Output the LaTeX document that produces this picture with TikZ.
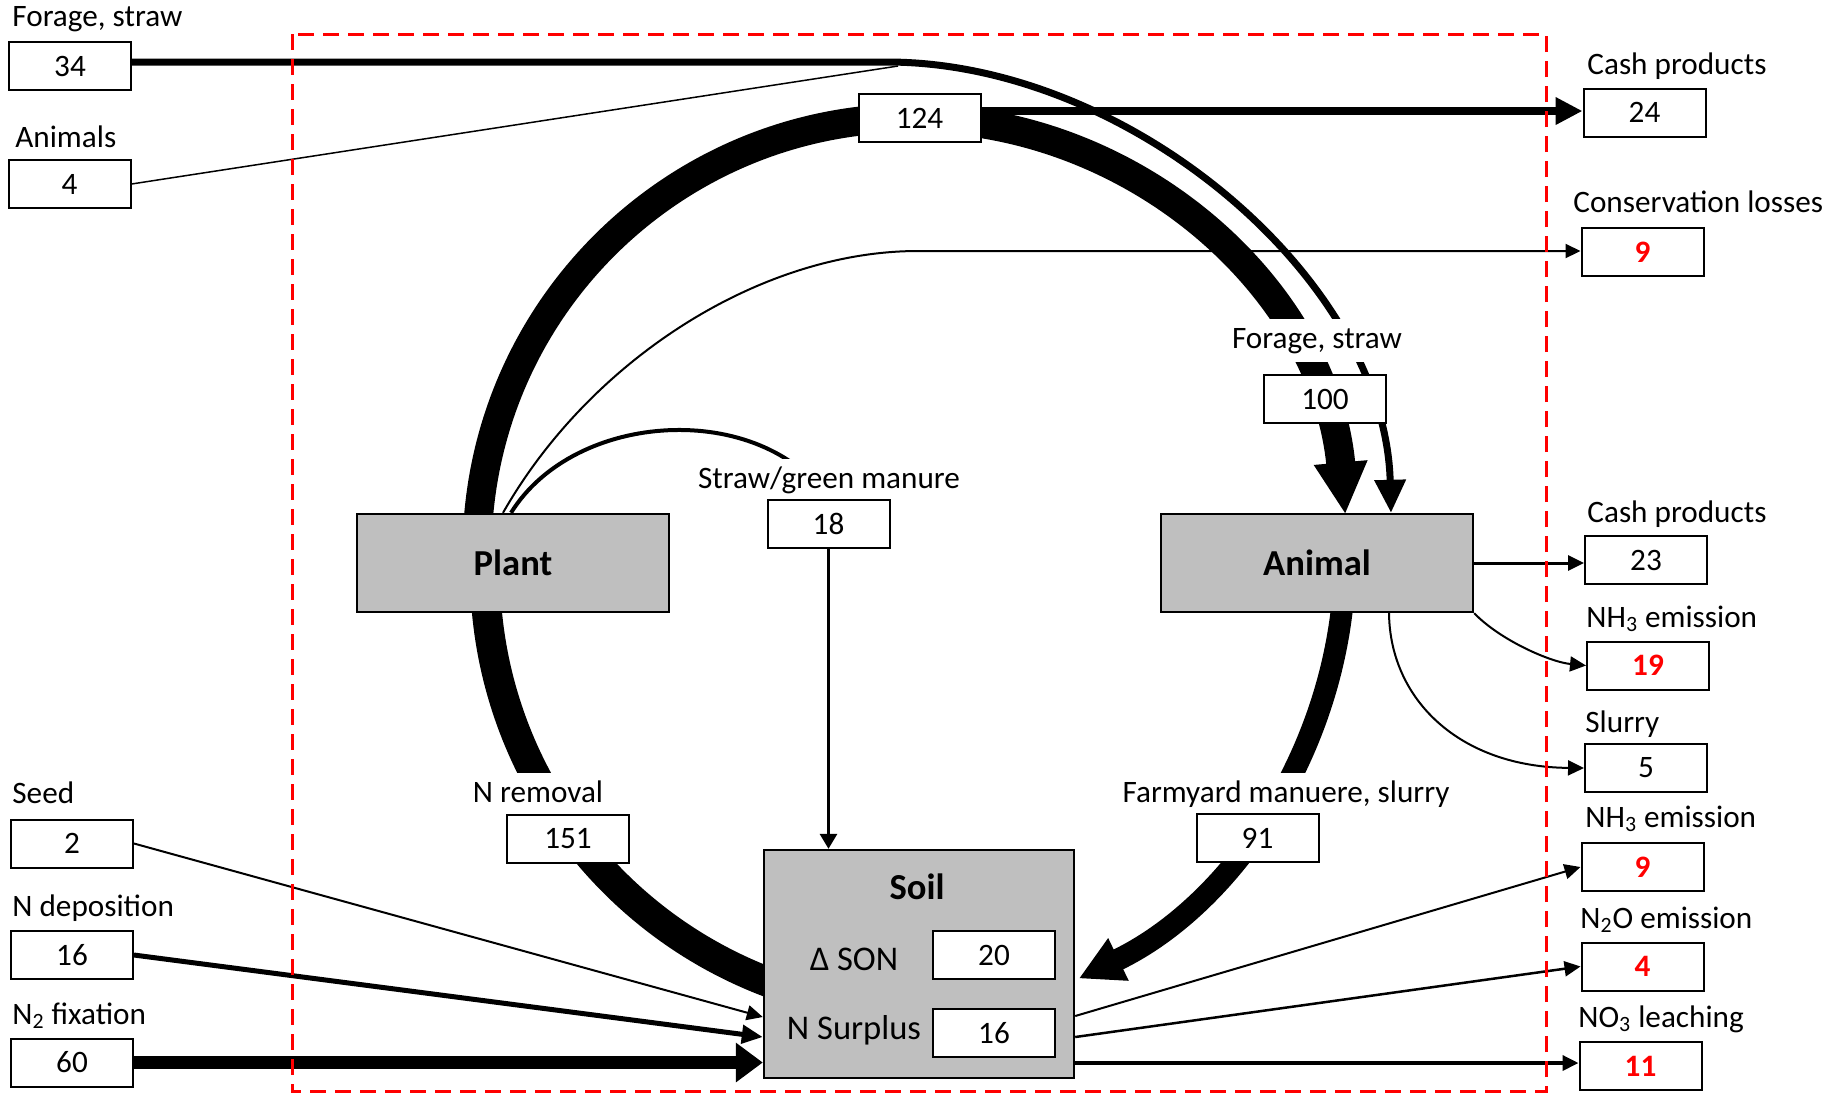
\documentclass[tikz,border=0pt]{standalone}
\usepackage{fontspec}
\setmainfont{Carlito}
\usetikzlibrary{arrows.meta,backgrounds}
\newcommand\fsreg{\fontsize{15.6pt}{18pt}\selectfont}
\newcommand\fsbold{\fontsize{18.3pt}{21pt}\selectfont\bfseries}
\newcommand\fssoil{\fontsize{17.3pt}{20pt}\selectfont}
\tikzset{
  numbox/.style={draw=black, line width=1pt, fill=white, minimum width=61pt, minimum height=24pt, inner sep=0pt, font=\fsreg},
  redbox/.style={numbox, text=red, font=\fsreg\bfseries},
  graybox/.style={draw=black, line width=1.2pt, fill=black!25, inner sep=0pt},
  lbl/.style={inner sep=0pt, anchor=base west, font=\fsreg},
  clbl/.style={inner sep=0pt, anchor=base, font=\fsreg, fill=white, text height=14.5pt, text depth=7pt},
  slbl/.style={inner sep=0pt, anchor=base, font=\fssoil},
  smalltip/.style={-{Triangle[width=7.5pt,length=8pt]}},
  flow/.style={line width=1pt},
}
\begin{document}
\begin{tikzpicture}[x=0.5pt,y=-0.5pt]
\useasboundingbox (0,0) rectangle (1845,1094);

% ---------- labels on the flows (drawn first, boxes go over them) ----------
\node[clbl] (tForageIn) at (1317,348) {Forage, straw};
\node[clbl] (tStraw) at (829,488) {Straw/green manure};
\node[clbl] (tRemoval) at (538,802) {N removal};
\node[clbl] (tManure) at (1286,802) {Farmyard manuere, slurry};

% ---------- boxes ----------
\node[numbox] (b34) at (70,66) {34};
\node[numbox] (b4a) at (69.5,184) {4};
\node[numbox] (b2) at (72,843.5) {2};
\node[numbox] (b16d) at (72,955) {16};
\node[numbox] (b60) at (72,1062.5) {60};
\node[numbox] (b124) at (919.5,118) {124};
\node[numbox] (b24) at (1644.5,112.5) {24};
\node[redbox] (b9c) at (1642.5,252) {9};
\node[numbox] (b100) at (1325,399) {100};
\node[graybox, minimum width=156pt, minimum height=49pt, font=\fsbold] (plant) at (513,563) {Plant};
\node[numbox] (b18) at (828.5,524) {18};
\node[graybox, minimum width=156pt, minimum height=49pt, font=\fsbold] (animal) at (1317,563) {Animal};
\node[numbox] (b23) at (1646,560) {23};
\node[redbox] (b19) at (1648,665.5) {19};
\node[numbox] (b5) at (1646,768) {5};
\node[numbox] (b151) at (568,838.5) {151};
\node[numbox] (b91) at (1257.5,838) {91};
\node[graybox, minimum width=155pt, minimum height=114pt] (soil) at (919,964) {};
\node[numbox] (b20) at (994,955) {20};
\node[numbox] (b16s) at (994,1033) {16};
\node[redbox] (b9n) at (1642.5,867) {9};
\node[redbox] (b4n) at (1642.5,966.5) {4};
\node[redbox] (b11) at (1640.5,1066) {11};

% ---------- labels ----------
\node[lbl] (tForage) at (12,26) {Forage, straw};
\node[lbl] (tAnimals) at (15,147) {Animals};
\node[lbl] (tSeed) at (12,803) {Seed};
\node[lbl] (tDep) at (12,916) {N deposition};
\node[lbl] (tFix) at (12,1024) {N\textsubscript{2} fixation};
\node[lbl] (tCash1) at (1587,74) {Cash products};
\node[lbl] (tCons) at (1573,212) {Conservation losses};
\node[lbl] (tCash2) at (1587,522) {Cash products};
\node[lbl] (tNHa) at (1586,627) {NH\textsubscript{3} emission};
\node[lbl] (tSlurry) at (1585,732) {Slurry};
\node[lbl] (tNHb) at (1585,827) {NH\textsubscript{3} emission};
\node[lbl] (tNNO) at (1580,928) {N\textsubscript{2}O emission};
\node[lbl] (tNO3) at (1578,1027) {NO\textsubscript{3} leaching};
\node[slbl, font=\fsbold] (tSoil) at (917,899) {Soil};
\node[slbl] (tSON) at (854,970) {Δ SON};
\node[slbl] (tSurplus) at (854,1039) {N Surplus};

% ---------- connectors (behind boxes) ----------
\coordinate (cTop) at (912,553);
\coordinate (cLeft) at (925,571);
\coordinate (cRight) at (875,555);
\coordinate (jImport) at (887,62);
\coordinate (hCons) at (918,251);

\begin{pgfonlayer}{background}
% main ring: plant -> 124 -> animal
\draw[line width=14.5pt, -{Triangle[width=25pt,length=26pt]}]
  (cTop) ++(183:435) arc[start angle=183, end angle=354.9, radius=435];
% N removal: plant -> soil
\draw[line width=15pt]
  (cLeft) ++(176:440) arc[start angle=176, end angle=108, radius=440];
% manure: animal -> soil
\draw[line width=11pt, -{Triangle[width=22pt,length=22pt]}]
  (cRight) ++(5:470) arc[start angle=5, end angle=64.3, radius=470];
% imported forage
\draw[line width=3.5pt, -{Triangle[width=15pt,length=16.5pt]}]
  (b34.east |- jImport) -- (jImport) .. controls (1130,62) and (1385,280) .. (animal.north -| 1391,0);
% imported animals
\draw[line width=0.75pt] (b4a.east) -- (898,66);
% cash products 24
\draw[line width=4pt, -{Triangle[width=13pt,length=13.5pt]}]
  (b124.east |- 0,111) -- (b24.west |- 0,111);
% conservation losses
\draw[flow, -{Triangle[width=7pt,length=7.5pt]}]
  (plant.north -| 503,0) .. controls (590,360) and (760,251) .. (hCons) -- (b9c.west |- hCons);
% straw / green manure
\draw[line width=2pt] (plant.north -| 511,0) .. controls (575,410) and (760,400) .. (b18.north);
\draw[line width=1.5pt, -{Triangle[width=8.5pt,length=7.5pt]}] (b18.south) -- (b18.south |- soil.north);
% animal outputs
\draw[line width=1.5pt, smalltip] (animal.east) -- (animal.east -| b23.west);
\draw[flow, smalltip] (animal.south east) .. controls (1500,640) and (1550,662) .. (b19.west);
\draw[flow, smalltip] (animal.south -| 1389,0) .. controls (1390,700) and (1460,767) .. (b5.west);
% inputs to soil
\draw[flow, smalltip] (b2.east) -- (soil.west |- 0,1017);
\draw[line width=2.5pt, -{Triangle[width=9pt,length=10.5pt]}] (b16d.east) -- (soil.west |- 0,1037);
\draw[line width=6.5pt, -{Triangle[width=19pt,length=13.5pt]}] (b60.east) -- (b60.east -| soil.west);
% soil outputs
\draw[flow, smalltip] (soil.east |- 0,1016) -- (b9n.west);
\draw[line width=1.25pt, smalltip] (soil.east |- 0,1037) -- (b4n.west);
\draw[line width=1.75pt, smalltip] (soil.east |- 0,1063) -- (b11.west |- 0,1063);
\end{pgfonlayer}

% ---------- system boundary ----------
\draw[red, line width=1.5pt, dash pattern=on 8pt off 4.5pt] (292,34) rectangle (1546,1091);
\end{tikzpicture}
\end{document}
